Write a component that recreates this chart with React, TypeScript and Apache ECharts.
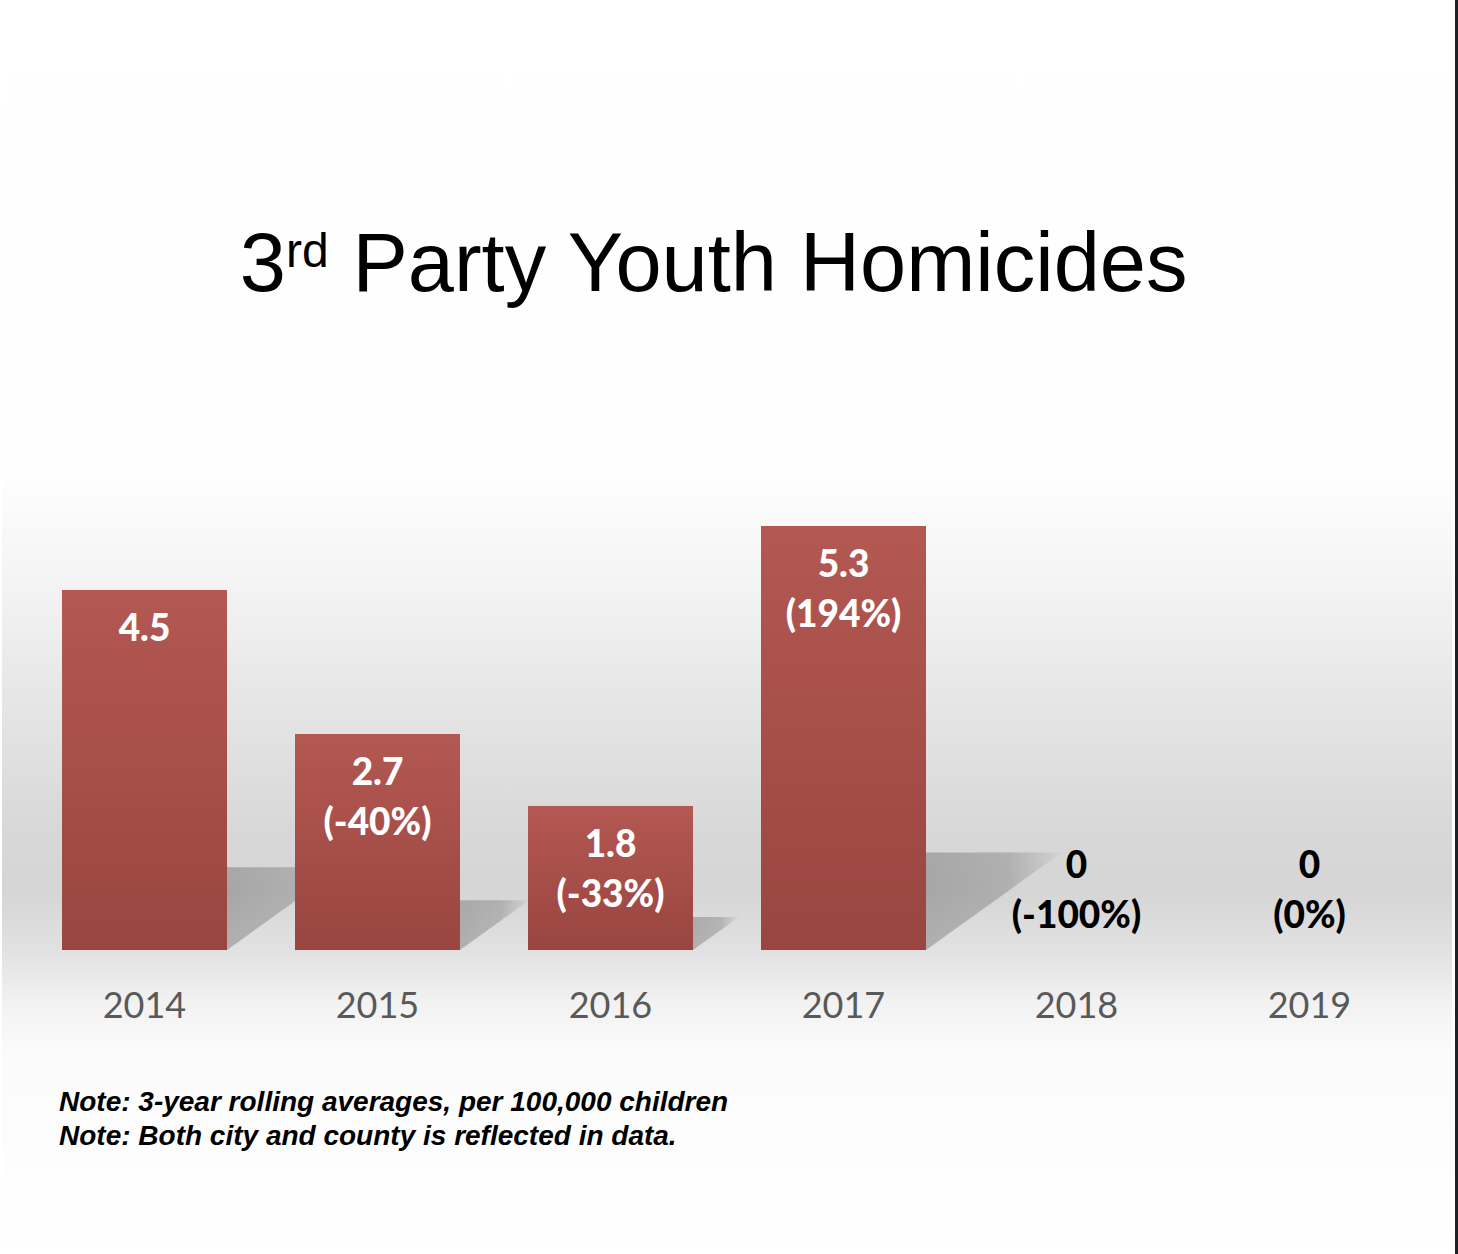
import React, { useEffect, useRef } from 'react';
import * as echarts from 'echarts';

// 3-year rolling averages per 100,000 children
const years = ['2014', '2015', '2016', '2017', '2018', '2019'];
const rates = [4.5, 2.7, 1.8, 5.3, 0, 0];
const changes = ['', '-40%', '-33%', '194%', '-100%', '0%'];

const notes = [
  'Note: 3-year rolling averages, per 100,000 children',
  'Note: Both city and county is reflected in data.',
];

const W = 1458;
const H = 1254;

const App: React.FC = () => {
  const chartRef = useRef<HTMLDivElement>(null);

  useEffect(() => {
    const chart = echarts.init(chartRef.current, null, { renderer: 'svg' });

    const barData = rates.map((v, i) =>
      v > 0
        ? { value: v }
        : { value: v, label: { position: 'top', color: '#000', distance: 12 } }
    );

    const option = {
      animation: false,
      graphic: [
        {
          type: 'rect',
          z: -10,
          shape: { x: 2, y: 0, width: 1450, height: H },
          style: {
            fill: new echarts.graphic.LinearGradient(0, 0, 0, 1, [
              { offset: 0, color: '#ffffff' },
              { offset: 0.38, color: '#fefefe' },
              { offset: 0.47, color: '#f3f3f3' },
              { offset: 0.55, color: '#e7e7e7' },
              { offset: 0.66, color: '#d8d8d8' },
              { offset: 0.71, color: '#d5d5d5' },
              { offset: 0.76, color: '#e2e2e2' },
              { offset: 0.8, color: '#f2f2f2' },
              { offset: 0.84, color: '#fbfbfb' },
              { offset: 1, color: '#ffffff' },
            ]),
          },
        },
        {
          type: 'rect',
          z: -9,
          shape: { x: 1455, y: 0, width: 3, height: H },
          style: { fill: '#1f1f26' },
        },
        {
          type: 'text',
          x: 714,
          y: 262,
          style: {
            text: '{a|3}{b|rd}{a| Party Youth Homicides}',
            textAlign: 'center',
            textVerticalAlign: 'middle',
            fill: '#000',
            rich: {
              a: {
                fontSize: 83,
                lineHeight: 92,
                fontFamily: '"Liberation Sans", Arial, sans-serif',
                color: '#000',
              },
              b: {
                fontSize: 48,
                lineHeight: 54,
                padding: [10, 0, 0, 0],
                verticalAlign: 'top',
                fontFamily: '"Liberation Sans", Arial, sans-serif',
                color: '#000',
              },
            },
          },
        },
        {
          type: 'text',
          x: 59,
          y: 1084,
          style: {
            text: notes.join('\n'),
            fontSize: 28,
            lineHeight: 34,
            fontStyle: 'italic',
            fontWeight: 'bold',
            fontFamily: '"Liberation Sans", Arial, sans-serif',
            fill: '#000',
            textVerticalAlign: 'top',
          },
        },
      ],
      grid: { left: 28, right: 32, top: 470, bottom: 304 },
      xAxis: {
        type: 'category',
        data: years,
        axisLine: { show: false },
        axisTick: { show: false },
        axisLabel: {
          fontSize: 36,
          fontFamily: 'Lato, sans-serif',
          color: '#595959',
          margin: 36,
        },
      },
      yAxis: {
        type: 'value',
        min: 0,
        max: 6,
        show: false,
        splitLine: { show: false },
      },
      series: [
        {
          // soft cast shadows behind the bars
          type: 'custom',
          z: 1,
          silent: true,
          data: rates.map((v, i) => [i, v]),
          encode: { x: 0, y: 1 },
          renderItem: (params: any, api: any) => {
            const i = api.value(0);
            const v = api.value(1);
            if (!(v > 0)) return null;
            const base = api.coord([i, 0]);
            const top = api.coord([i, v]);
            const h = base[1] - top[1];
            const right = base[0] + 82.5;
            return {
              type: 'polygon',
              shape: {
                points: [
                  [right, base[1]],
                  [right, base[1] - 0.23 * h],
                  [right + 0.32 * h, base[1] - 0.23 * h],
                ],
              },
              style: {
                fill: new echarts.graphic.LinearGradient(0, 0, 1, 0, [
                  { offset: 0, color: 'rgba(0,0,0,0.22)' },
                  { offset: 0.6, color: 'rgba(0,0,0,0.18)' },
                  { offset: 1, color: 'rgba(0,0,0,0.02)' },
                ]),
              },
            };
          },
        },
        {
          type: 'bar',
          z: 2,
          barWidth: 165,
          data: barData,
          itemStyle: {
            color: new echarts.graphic.LinearGradient(0, 0, 0, 1, [
              { offset: 0, color: '#b35852' },
              { offset: 1, color: '#9a4540' },
            ]),
          },
          label: {
            show: true,
            position: 'insideTop',
            distance: 11,
            color: '#fff',
            fontSize: 37,
            lineHeight: 50,
            fontWeight: 900,
            fontFamily: 'Lato, sans-serif',
            formatter: (p: any) => {
              const c = changes[p.dataIndex];
              return c ? `${p.value}\n(${c})` : `${p.value}`;
            },
          },
        },
      ],
    };

    chart.setOption(option);

    return () => {
      chart.dispose();
    };
  }, []);

  return (
    <div
      ref={chartRef}
      style={{ position: 'absolute', left: 0, top: 0, width: `${W}px`, height: `${H}px` }}
    />
  );
};

export default App;
